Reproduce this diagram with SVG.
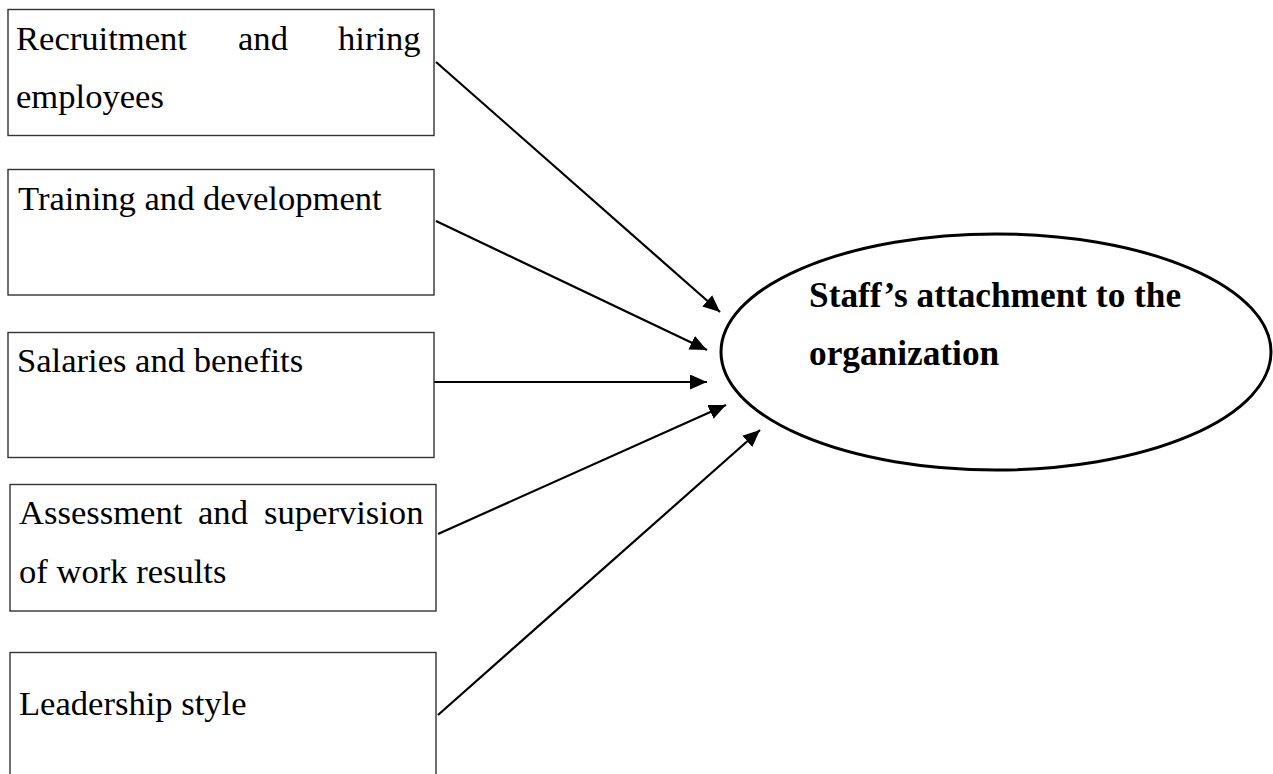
<svg xmlns="http://www.w3.org/2000/svg" width="1273" height="774" viewBox="0 0 1273 774">
  <style>
    .box { fill: #ffffff; stroke: #333333; stroke-width: 1.4; }
    .lbl { font-family: "Liberation Serif", "Times New Roman", serif; font-size: 34.6px; fill: #000000; }
    .core { font-family: "Liberation Serif", "Times New Roman", serif; font-size: 35.3px; font-weight: bold; fill: #000000; }
    .edge { fill: none; stroke: #000000; stroke-width: 2.2; marker-end: url(#arrow); }
  </style>
  <defs>
    <marker id="arrow" markerUnits="userSpaceOnUse" markerWidth="18" markerHeight="16" refX="17" refY="7.5" orient="auto">
      <path d="M0,0 L17,7.5 L0,15 z" fill="#000000"/>
    </marker>
  </defs>
  <rect width="1273" height="774" fill="#ffffff"/>

  <g id="connectors">
    <line class="edge" x1="436" y1="62" x2="720" y2="312"/>
    <line class="edge" x1="436" y1="221" x2="707" y2="350"/>
    <line class="edge" x1="434" y1="382" x2="707" y2="382"/>
    <line class="edge" x1="438" y1="534" x2="726" y2="405"/>
    <line class="edge" x1="438" y1="715" x2="760" y2="430"/>
  </g>

  <g id="node-recruitment">
    <rect class="box" x="8" y="9.5" width="426" height="126"/>
    <text class="lbl" x="16" y="50">Recruitment</text>
    <text class="lbl" x="238" y="50">and</text>
    <text class="lbl" x="338" y="50">hiring</text>
    <text class="lbl" x="16" y="108">employees</text>
  </g>

  <g id="node-training">
    <rect class="box" x="8" y="169.5" width="426" height="125.5"/>
    <text class="lbl" x="18" y="210">Training and development</text>
  </g>

  <g id="node-salaries">
    <rect class="box" x="8" y="332.5" width="426" height="125"/>
    <text class="lbl" x="17" y="372">Salaries and benefits</text>
  </g>

  <g id="node-assessment">
    <rect class="box" x="10" y="484.5" width="426" height="126.5"/>
    <text class="lbl" x="19" y="524">Assessment</text>
    <text class="lbl" x="198" y="524">and</text>
    <text class="lbl" x="264" y="524">supervision</text>
    <text class="lbl" x="19" y="583">of work results</text>
  </g>

  <g id="node-leadership">
    <rect class="box" x="10" y="652.5" width="426" height="140"/>
    <text class="lbl" x="19" y="715">Leadership style</text>
  </g>

  <g id="node-attachment">
    <ellipse cx="996" cy="352" rx="275" ry="118" fill="#ffffff" stroke="#000000" stroke-width="3"/>
    <text class="core" x="809" y="307">Staff’s attachment to the</text>
    <text class="core" x="809" y="365">organization</text>
  </g>
</svg>
